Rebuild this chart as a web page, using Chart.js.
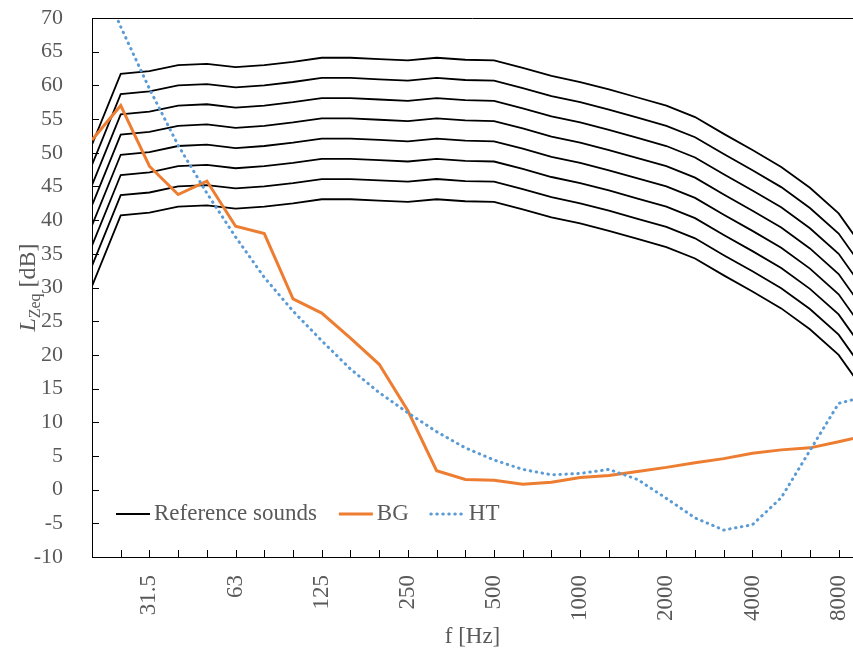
<!DOCTYPE html>
<html>
<head>
<meta charset="utf-8">
<title>LZeq reference sounds</title>
<script src="https://cdn.jsdelivr.net/npm/chart.js@4.4.1/dist/chart.umd.min.js"></script>
<style>
  html, body { margin: 0; padding: 0; background: #fff; overflow: hidden; }
  #wrap { width: 853px; height: 655px; }
</style>
</head>
<body>
<div id="wrap"><canvas id="chart" width="853" height="655"></canvas></div>
<script>
// 1/3-octave band centre frequencies [Hz]
const bands = ['20', '25', '31.5', '40', '50', '63', '80', '100', '125', '160', '200', '250', '315', '400',
  '500', '630', '800', '1000', '1250', '1600', '2000', '2500', '3150', '4000', '5000', '6300', '8000', '10000'];

// reference sounds, lowest to highest level [dB]
const ref1 = [30.2, 40.7, 41.1, 42.0, 42.2, 41.7, 42.0, 42.5, 43.1, 43.1, 42.9, 42.7, 43.1, 42.8, 42.7, 41.6, 40.4, 39.5, 38.4, 37.2, 36.0, 34.3, 31.8, 29.4, 26.9, 23.8, 20.0, 14.0];
const ref2 = [33.2, 43.7, 44.1, 45.0, 45.2, 44.7, 45.0, 45.5, 46.1, 46.1, 45.9, 45.7, 46.1, 45.8, 45.7, 44.6, 43.4, 42.5, 41.4, 40.2, 39.0, 37.3, 34.8, 32.4, 29.9, 26.8, 23.0, 17.0];
const ref3 = [36.2, 46.7, 47.1, 48.0, 48.2, 47.7, 48.0, 48.5, 49.1, 49.1, 48.9, 48.7, 49.1, 48.8, 48.7, 47.6, 46.4, 45.5, 44.4, 43.2, 42.0, 40.3, 37.8, 35.4, 32.9, 29.8, 26.0, 20.0];
const ref4 = [39.2, 49.7, 50.1, 51.0, 51.2, 50.7, 51.0, 51.5, 52.1, 52.1, 51.9, 51.7, 52.1, 51.8, 51.7, 50.6, 49.4, 48.5, 47.4, 46.2, 45.0, 43.3, 40.8, 38.4, 35.9, 32.8, 29.0, 23.0];
const ref5 = [42.2, 52.7, 53.1, 54.0, 54.2, 53.7, 54.0, 54.5, 55.1, 55.1, 54.9, 54.7, 55.1, 54.8, 54.7, 53.6, 52.4, 51.5, 50.4, 49.2, 48.0, 46.3, 43.8, 41.4, 38.9, 35.8, 32.0, 26.0];
const ref6 = [45.2, 55.7, 56.1, 57.0, 57.2, 56.7, 57.0, 57.5, 58.1, 58.1, 57.9, 57.7, 58.1, 57.8, 57.7, 56.6, 55.4, 54.5, 53.4, 52.2, 51.0, 49.3, 46.8, 44.4, 41.9, 38.8, 35.0, 29.0];
const ref7 = [48.2, 58.7, 59.1, 60.0, 60.2, 59.7, 60.0, 60.5, 61.1, 61.1, 60.9, 60.7, 61.1, 60.8, 60.7, 59.6, 58.4, 57.5, 56.4, 55.2, 54.0, 52.3, 49.8, 47.4, 44.9, 41.8, 38.0, 32.0];
const ref8 = [51.2, 61.7, 62.1, 63.0, 63.2, 62.7, 63.0, 63.5, 64.1, 64.1, 63.9, 63.7, 64.1, 63.8, 63.7, 62.6, 61.4, 60.5, 59.4, 58.2, 57.0, 55.3, 52.8, 50.4, 47.9, 44.8, 41.0, 35.0];

// background noise
const bgLevels = [51.9, 57.0, 48.0, 43.8, 45.8, 39.1, 38.0, 28.3, 26.2, 22.5, 18.6, 11.7, 2.8, 1.5,
  1.4, 0.8, 1.1, 1.8, 2.1, 2.7, 3.3, 4.0, 4.6, 5.4, 5.9, 6.2, 7.1, 8.1];

// hearing threshold
const htLevels = [78.5, 68.7, 59.5, 51.1, 44.0, 37.5, 31.5, 26.5, 22.1, 17.9, 14.4, 11.4, 8.6, 6.2,
  4.4, 3.0, 2.2, 2.4, 3.0, 1.5, -1.3, -4.2, -6.0, -5.2, -1.2, 5.8, 12.8, 13.9];

const refSeries = [ref1, ref2, ref3, ref4, ref5, ref6, ref7, ref8];
const yMin = -10, yMax = 70, yStep = 5;

const FONT = "'Liberation Serif', 'Times New Roman', serif";
const TEXT = '#595959';

const toPoints = arr => arr.map((v, i) => ({ x: i, y: v }));

const datasets = refSeries.map((s, k) => ({
  label: k === 0 ? 'Reference sounds' : '',
  data: toPoints(s),
  borderColor: '#000000',
  borderWidth: 1.8,
  order: 2
}));
datasets.push({
  label: 'BG',
  data: toPoints(bgLevels),
  borderColor: '#ED7D31',
  borderWidth: 3,
  order: 1
});
datasets.push({
  label: 'HT',
  data: toPoints(htLevels),
  borderColor: '#5B9BD5',
  borderWidth: 3,
  borderDash: [0.5, 5.5],
  borderCapStyle: 'round',
  order: 0
});

// inside tick marks, top frame line, legend and the y title with subscript
const decor = {
  id: 'decor',
  afterDraw(chart) {
    const { ctx, chartArea: a, scales: { x, y } } = chart;
    ctx.save();
    ctx.strokeStyle = '#000';
    ctx.lineWidth = 1;
    ctx.beginPath();
    ctx.moveTo(a.left, a.top + 0.5);
    ctx.lineTo(a.right, a.top + 0.5);
    y.ticks.forEach((t, i) => {
      const py = Math.round(y.getPixelForTick(i)) + 0.5;
      ctx.moveTo(a.left, py);
      ctx.lineTo(a.left + 7, py);
    });
    x.ticks.forEach((t, i) => {
      const px = Math.round(x.getPixelForTick(i)) + 0.5;
      ctx.moveTo(px, a.bottom);
      ctx.lineTo(px, a.bottom - 7);
    });
    ctx.stroke();

    // legend
    ctx.font = '23px ' + FONT;
    ctx.textBaseline = 'middle';
    ctx.fillStyle = TEXT;
    let lx = a.left + 24;
    const ly = 514;
    chart.data.datasets.filter(d => d.label).forEach(d => {
      ctx.beginPath();
      ctx.strokeStyle = d.borderColor;
      ctx.lineWidth = d.borderWidth;
      ctx.lineCap = d.borderCapStyle || 'butt';
      ctx.setLineDash(d.borderDash || []);
      ctx.moveTo(lx, ly);
      ctx.lineTo(lx + 34, ly);
      ctx.stroke();
      ctx.setLineDash([]);
      ctx.fillText(d.label, lx + 38, ly);
      lx += 38 + ctx.measureText(d.label).width + 22;
    });

    // y axis title: L_Zeq [dB]
    ctx.translate(35, (a.top + a.bottom) / 2);
    ctx.rotate(-Math.PI / 2);
    ctx.textBaseline = 'alphabetic';
    const parts = [
      { t: 'L', f: 'italic 24px ' + FONT, dy: 0 },
      { t: 'Zeq', f: '16px ' + FONT, dy: 5 },
      { t: ' [dB]', f: '24px ' + FONT, dy: 0 }
    ];
    let total = 0;
    parts.forEach(p => { ctx.font = p.f; p.w = ctx.measureText(p.t).width; total += p.w; });
    let tx = -total / 2;
    parts.forEach(p => {
      ctx.font = p.f;
      ctx.fillText(p.t, tx, p.dy);
      tx += p.w;
    });
    ctx.restore();
  }
};

new Chart(document.getElementById('chart'), {
  type: 'line',
  data: { datasets },
  options: {
    responsive: false,
    animation: false,
    layout: { padding: { top: 18, left: 0, right: 0, bottom: 0 } },
    elements: { point: { radius: 0 }, line: { tension: 0 } },
    plugins: { legend: { display: false }, tooltip: { enabled: false } },
    scales: {
      x: {
        type: 'linear',
        min: 0,
        max: 26.5,
        grid: { display: false },
        border: { display: true, color: '#000', width: 1 },
        ticks: {
          stepSize: 1,
          includeBounds: false,
          autoSkip: false,
          minRotation: 90,
          maxRotation: 90,
          padding: 10,
          color: TEXT,
          font: { family: FONT, size: 23 },
          callback: v => (Number.isInteger(v) && v % 3 === 2) ? bands[v] : ''
        },
        title: {
          display: true,
          text: 'f [Hz]',
          color: TEXT,
          font: { family: FONT, size: 23 },
          padding: { top: 0, bottom: 4 }
        },
        afterFit(scale) {
          scale.height = 98;
          scale.paddingLeft = 0;
          scale.paddingRight = 0;
        }
      },
      y: {
        min: yMin,
        max: yMax,
        grid: { display: false },
        border: { display: true, color: '#000', width: 1 },
        ticks: {
          stepSize: yStep,
          padding: 21,
          color: TEXT,
          font: { family: FONT, size: 22 },
          callback: v => String(v)
        },
        afterFit(scale) {
          scale.width = 92;
          scale.paddingTop = 0;
          scale.paddingBottom = 0;
        }
      }
    }
  },
  plugins: [decor]
});
</script>
</body>
</html>
